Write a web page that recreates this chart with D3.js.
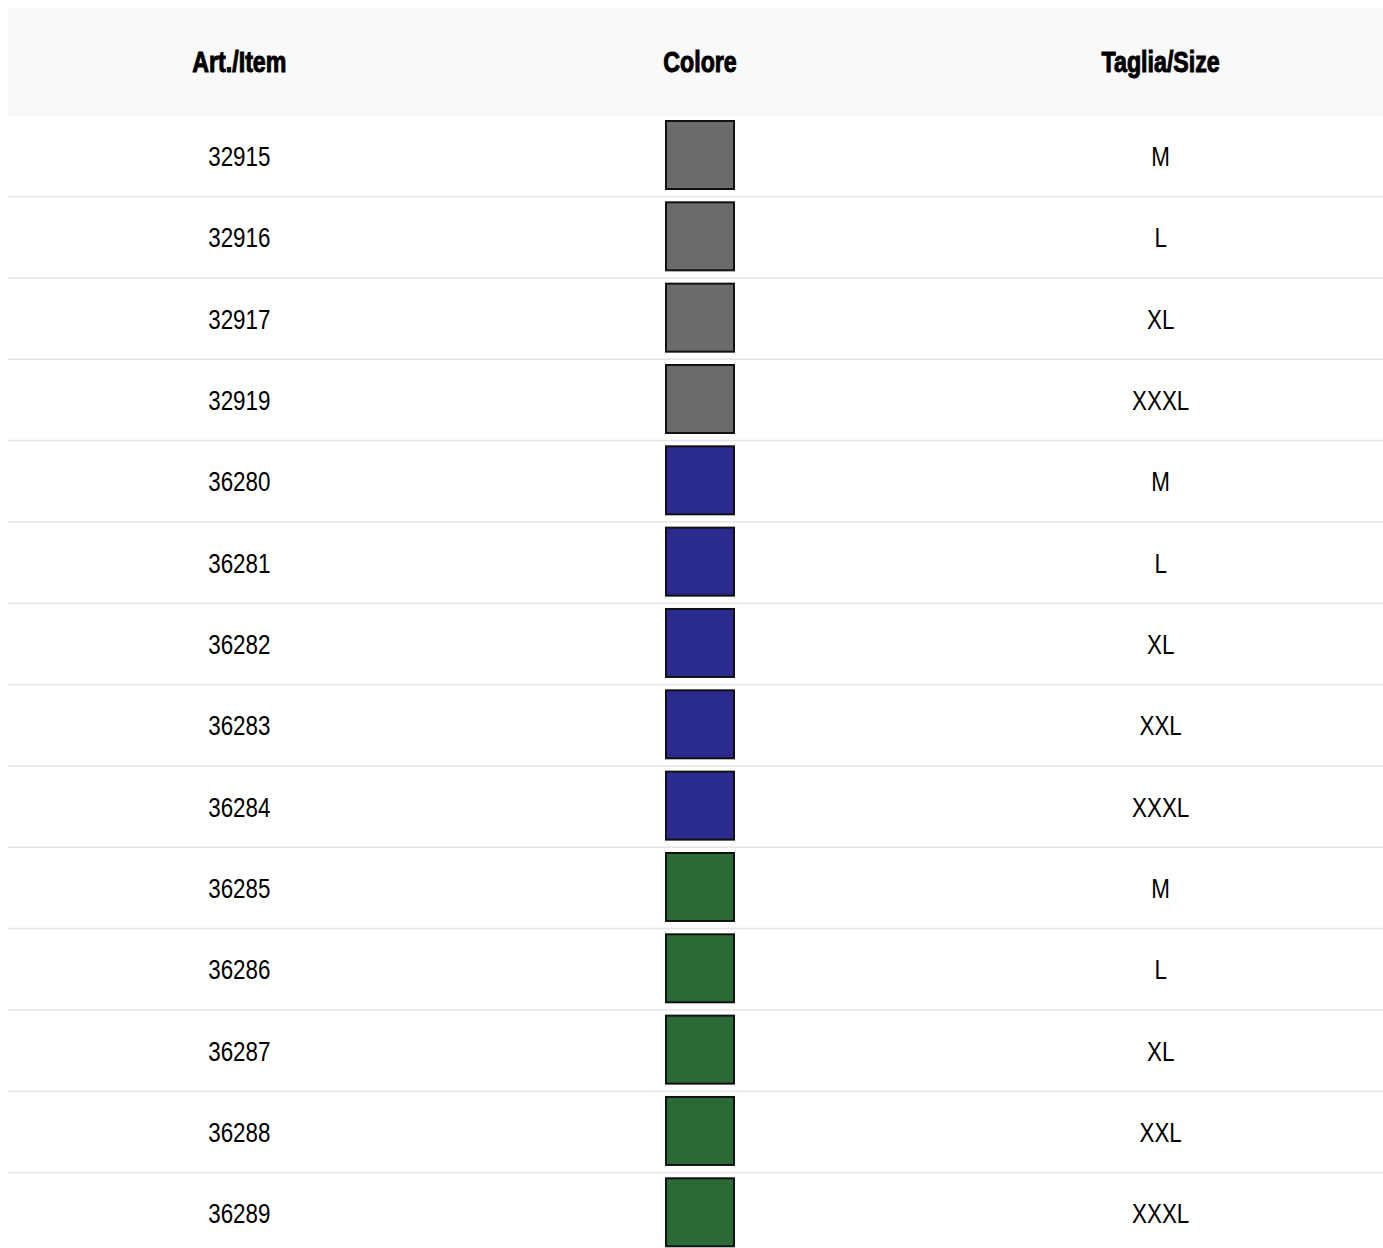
<!DOCTYPE html>
<html lang="it">
<head>
<meta charset="UTF-8">
<title>Articoli</title>
<script src="https://cdn.jsdelivr.net/npm/d3@7/dist/d3.min.js"></script>
<style>
    body { margin: 0; background: #fff; }
    svg { display: block; }
    .head text { font-family: "Liberation Sans", Arial, sans-serif; font-weight: bold; font-size: 29px; fill: #000; stroke: #000; stroke-width: 1px; }
    .cell { font-family: "Liberation Sans", Arial, sans-serif; font-size: 28px; fill: #000; }
</style>
</head>
<body>
<div id="chart"></div>
<script>
"use strict";

var columns = ["Art./Item", "Colore", "Taglia/Size"];
var items   = ["32915", "32916", "32917", "32919", "36280", "36281", "36282", "36283", "36284", "36285", "36286", "36287", "36288", "36289"];
var colori  = ["grigio", "grigio", "grigio", "grigio", "blu", "blu", "blu", "blu", "blu", "verde", "verde", "verde", "verde", "verde"];
var taglie  = ["M", "L", "XL", "XXXL", "M", "L", "XL", "XXL", "XXXL", "M", "L", "XL", "XXL", "XXXL"];

(function() {
    var W = 1383, H = 1248;
    var marginLeft = 8, marginTop = 8, headH = 108, rowH = 81.33;
    var squeeze = 0.8;   // font condensato

    var svg = d3.select("#chart").append("svg")
        .attr("width", W).attr("height", H)
        .attr("viewBox", [0, 0, W, H].join(" "));

    var x = d3.scaleBand().domain(columns).range([marginLeft + 1, marginLeft + 1383]);
    var y = d3.scaleBand().domain(d3.range(items.length))
        .range([marginTop + headH, marginTop + headH + rowH * items.length]);
    var fill = d3.scaleOrdinal().domain(["grigio", "blu", "verde"]).range(["#6b6b6b", "#2b2a8f", "#2b6a36"]);
    var cx = function(c) { return x(c) + x.bandwidth() / 2; };

    var rows = items.map(function(d, i) { return { item: d, colore: colori[i], taglia: taglie[i], i: i }; });

    // intestazione
    var head = svg.append("g").attr("class", "head");
    head.append("rect")
        .attr("x", marginLeft).attr("y", marginTop)
        .attr("width", W - marginLeft).attr("height", headH)
        .attr("fill", "#f9f9f9");
    head.selectAll("text").data(columns).enter().append("text")
        .attr("transform", function(d) { return "translate(" + cx(d) + "," + (marginTop + 63.5) + ") scale(0.8,1)"; })
        .attr("text-anchor", "middle")
        .text(function(d) { return d; });

    var g = svg.append("g").selectAll("g.row").data(rows).enter().append("g")
        .attr("class", "row")
        .attr("transform", function(d) { return "translate(0," + y(d.i) + ")"; });

    g.append("line")
        .attr("x1", marginLeft).attr("x2", W)
        .attr("y1", rowH - 0.75).attr("y2", rowH - 0.75)
        .attr("stroke", "#e5e5e5").attr("stroke-width", 1.5);

    g.append("text").attr("class", "cell")
        .attr("transform", "translate(" + cx(columns[0]) + ",50) scale(" + squeeze + ",1)")
        .attr("text-anchor", "middle")
        .text(function(d) { return d.item; });

    var sw = 68;
    g.append("rect")
        .attr("x", cx(columns[1]) - sw / 2)
        .attr("y", 39 - sw / 2)
        .attr("width", sw).attr("height", sw)
        .attr("fill", function(d) { return fill(d.colore); })
        .attr("stroke", "#111").attr("stroke-width", 2);

    g.append("text").attr("class", "cell")
        .attr("transform", "translate(" + cx(columns[2]) + ",50) scale(" + squeeze + ",1)")
        .attr("text-anchor", "middle")
        .text(function(d) { return d.taglia; });
})();
</script>
</body>
</html>
